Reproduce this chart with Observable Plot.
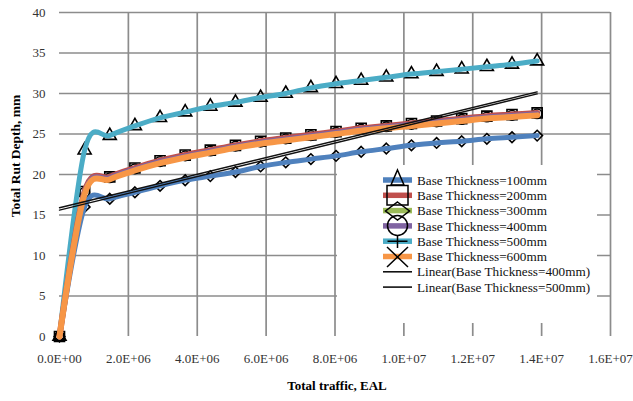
<!DOCTYPE html>
<html><head><meta charset="utf-8">
<script src="https://cdn.jsdelivr.net/npm/d3@7"></script>
<script src="https://cdn.jsdelivr.net/npm/@observablehq/plot@0.6"></script>
<style>body{margin:0;background:#fff;} svg{display:block}</style>
</head><body><div id="chart"></div>
<script>
// ---- data ----
const traffic = [0, 730000, 1460000, 2190000, 2920000, 3650000, 4380000, 5110000, 5840000, 6570000,
  7300000, 8030000, 8760000, 9490000, 10220000, 10950000, 11680000, 12410000, 13140000, 13870000];
const seriesNames = ["Base Thickness=100mm", "Base Thickness=200mm", "Base Thickness=300mm",
  "Base Thickness=400mm", "Base Thickness=500mm", "Base Thickness=600mm"];
const seriesColors = ["#4F81BD", "#C0504D", "#9BBB59", "#8064A2", "#4BACC6", "#F79646"];
const depth100 = [0, 16.0, 17.0, 17.8, 18.6, 19.3, 19.8, 20.3, 21.0, 21.5, 21.9, 22.3, 22.8, 23.2, 23.6, 23.9, 24.1, 24.4, 24.6, 24.8];
const depth200 = [0, 17.9, 19.7, 20.8, 21.7, 22.4, 23.0, 23.6, 24.1, 24.5, 24.9, 25.3, 25.7, 26.0, 26.3, 26.6, 26.9, 27.2, 27.4, 27.6];
const depth300 = [0, 17.7, 19.5, 20.6, 21.5, 22.2, 22.8, 23.4, 23.9, 24.3, 24.7, 25.1, 25.5, 25.8, 26.1, 26.4, 26.7, 27.0, 27.2, 27.4];
const depth400 = [0, 17.8, 19.6, 20.7, 21.6, 22.3, 22.9, 23.5, 24.0, 24.4, 24.8, 25.2, 25.6, 25.9, 26.2, 26.5, 26.8, 27.1, 27.3, 27.5];
const depth500 = [0, 23.0, 24.8, 26.0, 27.0, 27.7, 28.4, 28.9, 29.5, 30.0, 30.7, 31.2, 31.6, 32.0, 32.4, 32.7, 33.0, 33.3, 33.6, 34.0];
const depth600 = [0, 17.6, 19.4, 20.5, 21.4, 22.1, 22.7, 23.3, 23.8, 24.2, 24.6, 25.0, 25.4, 25.7, 26.0, 26.3, 26.6, 26.9, 27.1, 27.3];
const trendNames = ["Linear(Base Thickness=400mm)", "Linear(Base Thickness=500mm)"];
const trendX = [0, 13870000];
const trend400 = [15.6, 29.95];
const trend500 = [15.9, 30.2];
const yTicks = [0, 5, 10, 15, 20, 25, 30, 35, 40];
const xTicks = [0, 2000000, 4000000, 6000000, 8000000, 10000000, 12000000, 14000000, 16000000];
const xTickLabels = ["0.0E+00", "2.0E+06", "4.0E+06", "6.0E+06", "8.0E+06", "1.0E+07", "1.2E+07", "1.4E+07", "1.6E+07"];
const yGrid = [5, 10, 15, 20, 25, 30, 35, 40];
const xGrid = [2000000, 4000000, 6000000, 8000000, 10000000, 12000000, 14000000, 16000000];
const xTitle = "Total traffic, EAL";
const yTitle = "Total Rut Depth, mm";

const SERIF = "'Liberation Serif', 'Times New Roman', serif";

// ---- build tables ----
const seriesValues = [depth100, depth200, depth300, depth400, depth500, depth600];
const seriesRows = seriesValues.map(vals => vals.map((v, i) => ({x: traffic[i], y: v})));
const trendRows = [trend400, trend500].map(vals => vals.map((v, i) => ({x: trendX[i], y: v})));

const widths = [5, 6, 5, 5, 5, 6];
const drawOrder = [0, 4, 1, 2, 3, 5];
const markerSpec = [
  {s: 0, symbol: "diamond2", r: 4.8},
  {s: 1, symbol: "square2", r: 6.4},
  {s: 3, symbol: "circle", r: 4.8},
  {s: 4, symbol: "triangle2", r: 6.2}
];

const marks = [
  Plot.ruleY(yGrid, {stroke: "#8c8c8c", strokeWidth: 1.7}),
  Plot.ruleX(xGrid, {stroke: "#8c8c8c", strokeWidth: 1.7}),
  ...markerSpec.map(m => Plot.dot(seriesRows[m.s], {x: "x", y: "y", symbol: m.symbol, r: m.r, stroke: "#000", strokeWidth: 1.6, fill: "none"})),
  ...drawOrder.map(s => Plot.line(seriesRows[s], {x: "x", y: "y", stroke: seriesColors[s], strokeWidth: widths[s], curve: "cardinal", tension: 0})),
  ...trendRows.map(rows => Plot.line(rows, {x: "x", y: "y", stroke: "#111", strokeWidth: 1.4})),
  Plot.axisY(yTicks, {tickSize: 0, tickPadding: 14, color: "#333", fontSize: 13, label: null}),
  Plot.axisX(xTicks, {tickSize: 0, tickPadding: 17, color: "#333", fontSize: 13, label: null,
    tickFormat: d => xTickLabels[xTicks.indexOf(d)]})
];

const chart = Plot.plot({
  width: 633, height: 401,
  marginLeft: 59, marginRight: 23, marginTop: 12, marginBottom: 65,
  x: {domain: [0, 16000000]},
  y: {domain: [0, 40]},
  style: {fontFamily: SERIF, fontSize: "13px", background: "#fff", overflow: "visible"},
  marks
});
document.getElementById("chart").appendChild(chart);

// ---- titles & legend ----
const svg = d3.select(chart);
svg.append("text").attr("x", 337).attr("y", 390).attr("text-anchor", "middle")
  .style("font-family", SERIF).style("font-weight", "bold").style("font-size", "13px")
  .attr("fill", "#000").text(xTitle);
svg.append("text").attr("transform", "translate(19.5,156) rotate(-90)").attr("text-anchor", "middle")
  .style("font-family", SERIF).style("font-weight", "bold").style("font-size", "13.5px")
  .attr("fill", "#000").text(yTitle);

const lg = svg.append("g").attr("text-anchor", "start");
lg.append("rect").attr("x", 337).attr("y", 165).attr("width", 260).attr("height", 158).attr("fill", "#fff");
const rowY = [180, 195.3, 210.6, 225.9, 241.2, 256.5, 271.8, 287.1];
const legendLabels = seriesNames.concat(trendNames);
const legendColors = seriesColors.concat(["#111", "#111"]);
legendLabels.forEach((lab, i) => {
  const y = rowY[i];
  lg.append("line").attr("x1", 383).attr("x2", 412).attr("y1", y).attr("y2", y)
    .attr("stroke", legendColors[i]).attr("stroke-width", i < 6 ? 5.5 : 1.6);
  lg.append("text").attr("x", 417).attr("y", y).attr("dy", "0.35em")
    .style("font-family", SERIF).style("font-size", "13.2px")
    .attr("text-anchor", "start").attr("fill", "#111").text(lab);
});
const cx = 397.5;
const mk = lg.append("g").attr("fill", "none").attr("stroke", "#000").attr("stroke-width", 1.5);
mk.append("path").attr("d", `M${cx},170 L${cx + 6.5},185 L${cx - 6.5},185 Z`);
mk.append("rect").attr("x", cx - 10.5).attr("y", 185.5).attr("width", 21).attr("height", 19.5);
mk.append("path").attr("d", `M${cx},202 L${cx + 12},211 L${cx},220 L${cx - 12},211 Z`);
mk.append("circle").attr("cx", cx).attr("cy", 225.5).attr("r", 10);
mk.append("path").attr("d", `M${cx - 10},241.2 L${cx + 10},241.2 M${cx},235 L${cx},248`);
mk.append("path").attr("d", `M${cx - 10.5},247 L${cx + 10.5},267 M${cx + 10.5},247 L${cx - 10.5},267`);
</script>
</body></html>
